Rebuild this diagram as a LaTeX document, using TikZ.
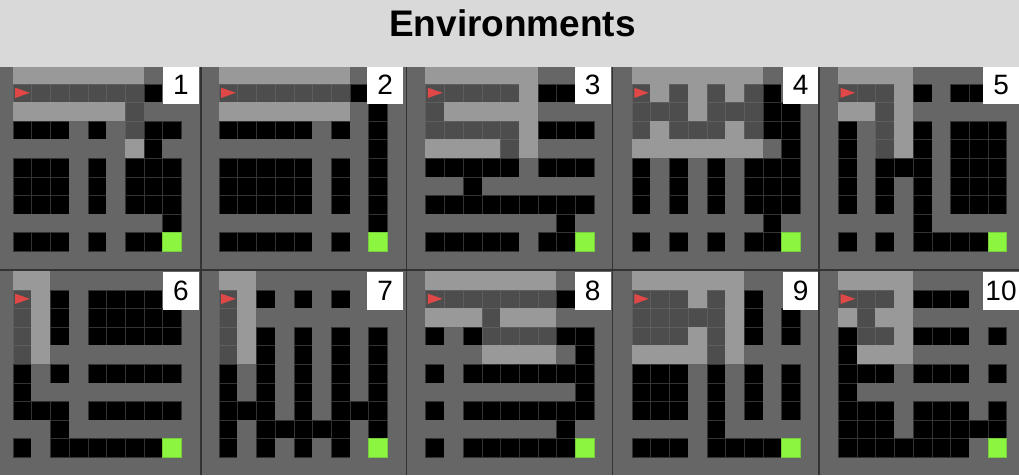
\documentclass[tikz,border=0pt]{standalone}
\usepackage{fontspec}
\setmainfont{Liberation Sans}
\definecolor{wallgray}{HTML}{666666}
\definecolor{tilew}{HTML}{666666}
\definecolor{linew}{HTML}{666666}
\definecolor{tileL}{HTML}{999999}
\definecolor{lineL}{HTML}{999999}
\definecolor{tileD}{HTML}{4D4D4D}
\definecolor{lineD}{HTML}{5E5E5E}
\definecolor{tileA}{HTML}{4D4D4D}
\definecolor{lineA}{HTML}{5E5E5E}
\definecolor{tileB}{HTML}{000000}
\definecolor{lineB}{HTML}{333333}
\definecolor{tileG}{HTML}{8CF53F}
\definecolor{lineG}{HTML}{7ACC3F}
\definecolor{agentred}{HTML}{E04848}
\definecolor{titlegray}{HTML}{D9D9D9}
\definecolor{sepgray}{HTML}{333333}
\newcommand{\cellw}{18.7}
\newcommand{\cellh}{18.55}
\newcommand{\drawmaze}[5]{%
  \foreach \cells [count=\mrow from 0] in {#5} {
    \foreach \kind [count=\mcol from 1] in \cells
      \path[tile, fill=tile\kind, draw=line\kind] ({#1+\mcol*\cellw},{#2+\mrow*\cellh}) rectangle ++(\cellw,\cellh);
  }
  \fill[agentred] ({#1+1.12*\cellw},{#2+1.2*\cellh}) -- ({#1+1.12*\cellw},{#2+1.75*\cellh}) -- ({#1+1.9*\cellw},{#2+1.47*\cellh}) -- cycle;
  \node[numbox] (num#4) at (#3,{#2+0.5}) {#4};
}
\begin{document}
\begin{tikzpicture}[x=1pt,y=-1pt,
  tile/.style={line width=0.6pt},
  numbox/.style={fill=white, inner sep=0pt, minimum width=36.3pt, minimum height=37.5pt, anchor=north west, font=\fontsize{28}{30}\selectfont},
  sepline/.style={draw=sepgray, line width=1.5pt}]
\useasboundingbox (0,0) rectangle (1019,475);
\clip (0,0) rectangle (1019,475);
\fill[wallgray] (0,0) rectangle (1019,475);
\drawmaze{-5.7}{65.5}{162.5}{1}{{L,L,L,L,L,L,L,w,w},{A,D,D,D,D,D,D,B,w},{L,L,L,L,L,L,D,w,w},{B,B,B,w,B,w,D,B,B},{w,w,w,w,w,w,L,B,w},{B,B,B,w,B,w,B,B,B},{B,B,B,w,B,w,B,B,B},{B,B,B,w,B,w,B,B,B},{w,w,w,w,w,w,w,w,B},{B,B,B,w,B,w,B,B,G}}
\drawmaze{200.3}{65.5}{366.7}{2}{{L,L,L,L,L,L,L,w,w},{A,D,D,D,D,D,D,B,w},{L,L,L,L,L,L,L,w,B},{B,B,B,B,B,w,B,w,B},{w,w,w,w,w,w,w,w,B},{B,B,B,B,B,w,B,w,B},{B,B,B,B,B,w,B,w,B},{B,B,B,B,B,w,B,w,B},{w,w,w,w,w,w,w,w,B},{B,B,B,B,B,w,B,w,G}}
\drawmaze{407.0}{65.5}{574.3}{3}{{L,L,L,L,L,L,w,w,w},{A,D,D,D,D,L,B,B,w},{D,L,L,L,L,L,w,w,w},{D,D,D,D,D,L,B,B,B},{L,L,L,L,D,L,w,w,w},{B,B,B,B,B,w,B,B,B},{w,w,B,w,w,w,w,w,w},{B,B,B,B,B,B,B,B,B},{w,w,w,w,w,w,w,B,w},{B,B,B,B,B,w,B,B,G}}
\drawmaze{613.3}{65.5}{782.3}{4}{{L,L,L,L,L,L,L,w,w},{A,L,D,L,D,L,D,B,w},{D,D,D,L,D,D,D,B,B},{D,L,D,D,D,L,D,B,B},{L,L,L,L,L,L,L,w,B},{B,w,B,w,B,w,B,B,B},{B,w,B,w,B,w,B,B,B},{B,w,B,w,B,w,B,B,B},{w,w,w,w,w,w,w,B,w},{B,w,B,w,B,w,B,B,G}}
\drawmaze{819.6}{65.5}{982.7}{5}{{L,L,L,L,w,w,w,w,w},{A,D,D,L,B,w,B,B,w},{L,L,D,L,w,w,w,w,w},{B,w,D,L,B,w,B,B,B},{B,w,D,L,B,w,B,B,B},{B,w,B,B,B,w,B,B,B},{B,w,B,w,B,w,B,B,B},{B,w,B,w,B,w,B,B,B},{w,w,w,w,B,w,w,w,w},{B,w,B,w,B,B,B,B,G}}
\drawmaze{-5.7}{271.5}{162.5}{6}{{L,L,w,w,w,w,w,w,w},{A,L,B,w,B,B,B,B,w},{D,L,B,w,B,B,B,B,B},{D,L,B,w,B,B,B,B,B},{D,L,w,w,w,w,w,w,w},{B,w,B,w,B,B,B,B,B},{B,w,w,w,w,w,w,w,w},{B,B,B,w,B,B,B,B,B},{w,w,B,w,w,w,w,w,w},{B,w,B,B,B,B,B,B,G}}
\drawmaze{200.3}{271.5}{366.7}{7}{{L,L,w,w,w,w,w,w,w},{A,L,B,w,B,w,B,w,w},{D,L,w,w,w,w,w,w,w},{D,L,B,w,B,w,B,w,B},{D,L,B,w,B,w,B,w,B},{B,w,B,w,B,w,B,w,B},{B,w,B,w,B,w,B,w,B},{B,B,B,w,B,w,B,B,B},{B,w,B,B,B,B,B,w,B},{B,w,B,w,B,w,B,w,G}}
\drawmaze{407.0}{271.5}{574.3}{8}{{L,L,L,L,L,L,L,w,w},{A,D,D,D,D,D,D,B,w},{L,L,L,D,L,L,L,w,w},{B,w,B,D,D,D,D,B,B},{w,w,w,L,L,L,L,w,B},{B,w,B,B,B,B,B,B,B},{w,w,w,w,w,w,w,w,B},{B,w,B,B,B,B,B,B,B},{w,w,w,w,w,w,w,B,w},{B,w,B,B,B,B,B,B,G}}
\drawmaze{613.3}{271.5}{782.3}{9}{{L,L,L,L,L,L,w,w,w},{A,D,D,L,D,L,B,w,w},{D,D,D,D,D,L,B,w,B},{D,D,D,L,D,L,B,w,B},{L,L,L,L,D,L,w,w,w},{B,B,B,w,B,w,B,w,B},{B,B,B,w,B,w,B,w,B},{B,B,B,w,B,w,B,w,B},{w,w,w,w,B,w,w,w,w},{B,B,B,w,B,B,B,B,G}}
\drawmaze{819.6}{271.5}{982.7}{10}{{L,L,L,L,w,w,w,w,w},{A,D,D,L,B,B,B,w,w},{L,D,L,L,w,w,w,w,w},{B,D,D,L,B,B,B,w,B},{B,L,L,L,w,w,w,w,w},{B,B,B,w,B,B,B,w,B},{B,w,w,w,w,w,w,w,w},{B,B,B,w,B,B,B,w,B},{B,B,B,w,B,B,B,B,B},{B,B,B,B,B,B,B,w,G}}
\draw[sepline] (0,270.2) -- (1019,270.2);
\draw[sepline] (200.9,66) -- (200.9,475);
\draw[sepline] (406.7,66) -- (406.7,475);
\draw[sepline] (612.5,66) -- (612.5,475);
\draw[sepline] (819.0,66) -- (819.0,475);
\fill[titlegray] (0,0) rectangle (1019,66.7);
\node[font=\bfseries\fontsize{37}{44}\selectfont, anchor=base] (title) at (512.5,36.7) {Environments};
\end{tikzpicture}
\end{document}
